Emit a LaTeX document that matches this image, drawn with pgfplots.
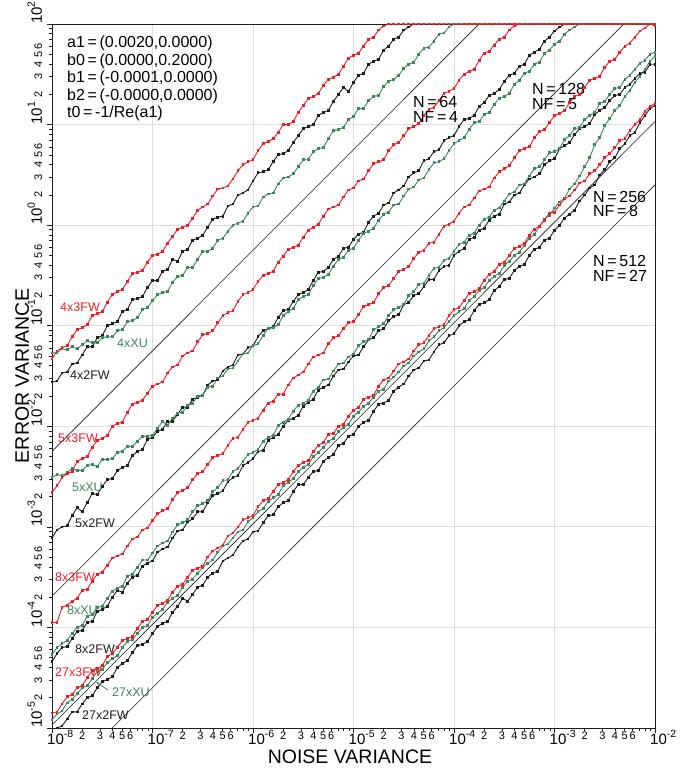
\documentclass[border=0pt]{standalone}
\usepackage{pgfplots}
\pgfplotsset{compat=1.18}
\usepackage{pgfplotstable}
\usetikzlibrary{arrows.meta}
\usepackage{fontspec}
\setmainfont{Liberation Sans}

\definecolor{cRed}{RGB}{236,30,38}
\definecolor{cGreen}{RGB}{62,134,92}
\definecolor{cBlack}{RGB}{30,30,30}
\definecolor{cGrid}{RGB}{222,222,222}

% power-of-ten tick label with a raised exponent
\newcommand{\tp}[1]{10\raisebox{7pt}{\fontsize{10.5}{10.5}\selectfont #1}}
\newcommand{\lbl}{\fontsize{12.5}{13}\selectfont}
\newcommand{\annot}{\fontsize{16}{17}\selectfont}

% columns: log10(noise variance), log10(error variance) for 3FW, XU, 2FW
\pgfplotstableread{
X r g k
-8.00 -1.33 -1.27 -1.56
-7.95 -1.25 -1.27 -1.55
-7.90 -1.22 -1.23 -1.47
-7.85 -1.20 -1.24 -1.46
-7.80 -1.11 -1.21 -1.38
-7.75 -1.04 -1.23 -1.37
-7.70 -1.02 -1.19 -1.29
-7.65 -0.99 -1.15 -1.21
-7.60 -0.90 -1.17 -1.21
-7.55 -0.88 -1.17 -1.12
-7.50 -0.86 -1.12 -1.10
-7.45 -0.77 -1.11 -1.00
-7.40 -0.69 -1.11 -0.98
-7.35 -0.66 -1.05 -0.96
-7.30 -0.64 -1.04 -0.86
-7.25 -0.56 -0.96 -0.84
-7.20 -0.48 -0.95 -0.74
-7.15 -0.47 -0.92 -0.73
-7.10 -0.45 -0.84 -0.71
-7.05 -0.37 -0.82 -0.62
-7.00 -0.30 -0.75 -0.55
-6.95 -0.29 -0.69 -0.55
-6.90 -0.26 -0.67 -0.46
-6.85 -0.18 -0.66 -0.44
-6.80 -0.11 -0.57 -0.34
-6.75 -0.04 -0.51 -0.36
-6.70 -0.02 -0.50 -0.26
-6.65 0.00 -0.42 -0.24
-6.60 0.07 -0.42 -0.15
-6.55 0.15 -0.34 -0.13
-6.50 0.18 -0.26 -0.10
-6.45 0.21 -0.26 -0.02
-6.40 0.29 -0.23 0.06
-6.35 0.36 -0.15 0.08
-6.30 0.37 -0.13 0.09
-6.25 0.39 -0.06 0.19
-6.20 0.46 0.00 0.21
-6.15 0.54 0.02 0.30
-6.10 0.60 0.04 0.32
-6.05 0.63 0.12 0.35
-6.00 0.65 0.18 0.44
-5.95 0.74 0.19 0.52
-5.90 0.81 0.28 0.53
-5.85 0.83 0.31 0.55
-5.80 0.86 0.32 0.63
-5.75 0.92 0.41 0.70
-5.70 1.00 0.47 0.71
-5.65 1.00 0.48 0.74
-5.60 1.03 0.51 0.82
-5.55 1.12 0.58 0.89
-5.50 1.19 0.65 0.96
-5.45 1.26 0.65 0.98
-5.40 1.28 0.73 1.00
-5.35 1.31 0.76 1.09
-5.30 1.39 0.77 1.12
-5.25 1.45 0.86 1.14
-5.20 1.47 0.94 1.23
-5.15 1.50 0.95 1.30
-5.10 1.58 0.97 1.37
-5.05 1.66 1.05 1.33
-5.00 1.69 1.08 1.42
-4.95 1.71 1.16 1.49
-4.90 1.78 1.16 1.51
-4.85 1.85 1.24 1.60
-4.80 1.87 1.28 1.63
-4.75 1.94 1.29 1.65
-4.70 1.98 1.38 1.74
-4.65 2.00 1.43 1.78
-4.60 2.00 1.45 1.85
-4.55 2.00 1.49 1.87
-4.50 2.00 1.56 1.94
-4.45 2.00 1.60 1.97
-4.40 2.00 1.62 2.00
-4.35 2.00 1.70 2.00
-4.30 2.00 1.76 2.00
-4.25 2.00 1.77 2.00
-4.20 2.00 1.83 2.00
-4.15 2.00 1.90 2.00
-4.10 2.00 1.91 2.00
-4.05 2.00 1.97 2.00
-4.00 2.00 2.00 2.00
-3.95 2.00 2.00 2.00
-3.90 2.00 2.00 2.00
-3.85 2.00 2.00 2.00
-3.80 2.00 2.00 2.00
-3.75 2.00 2.00 2.00
-3.70 2.00 2.00 2.00
-3.65 2.00 2.00 2.00
-3.60 2.00 2.00 2.00
-3.55 2.00 2.00 2.00
-3.50 2.00 2.00 2.00
-3.45 2.00 2.00 2.00
-3.40 2.00 2.00 2.00
-3.35 2.00 2.00 2.00
-3.30 2.00 2.00 2.00
-3.25 2.00 2.00 2.00
-3.20 2.00 2.00 2.00
-3.15 2.00 2.00 2.00
-3.10 2.00 2.00 2.00
-3.05 2.00 2.00 2.00
-3.00 2.00 2.00 2.00
-2.95 2.00 2.00 2.00
-2.90 2.00 2.00 2.00
-2.85 2.00 2.00 2.00
-2.80 2.00 2.00 2.00
-2.75 2.00 2.00 2.00
-2.70 2.00 2.00 2.00
-2.65 2.00 2.00 2.00
-2.60 2.00 2.00 2.00
-2.55 2.00 2.00 2.00
-2.50 2.00 2.00 2.00
-2.45 2.00 2.00 2.00
-2.40 2.00 2.00 2.00
-2.35 2.00 2.00 2.00
-2.30 2.00 2.00 2.00
-2.25 2.00 2.00 2.00
-2.20 2.00 2.00 2.00
-2.15 2.00 2.00 2.00
-2.10 2.00 2.00 2.00
-2.05 2.00 2.00 2.00
-2.00 2.00 2.00 2.00
}\groupFour

\pgfplotstableread{
X r g k
-8.00 -2.66 -2.51 -3.11
-7.95 -2.59 -2.48 -3.03
-7.90 -2.51 -2.49 -3.00
-7.85 -2.47 -2.46 -2.99
-7.80 -2.45 -2.42 -2.89
-7.75 -2.35 -2.44 -2.81
-7.70 -2.32 -2.44 -2.85
-7.65 -2.30 -2.39 -2.76
-7.60 -2.21 -2.38 -2.67
-7.55 -2.14 -2.40 -2.68
-7.50 -2.12 -2.33 -2.60
-7.45 -2.09 -2.33 -2.53
-7.40 -2.00 -2.32 -2.52
-7.35 -1.97 -2.26 -2.44
-7.30 -1.96 -2.25 -2.41
-7.25 -1.86 -2.20 -2.39
-7.20 -1.78 -2.20 -2.29
-7.15 -1.76 -2.15 -2.25
-7.10 -1.74 -2.10 -2.23
-7.05 -1.67 -2.10 -2.13
-7.00 -1.60 -2.09 -2.11
-6.95 -1.58 -2.02 -2.05
-6.90 -1.56 -1.95 -2.03
-6.85 -1.47 -1.99 -1.95
-6.80 -1.41 -1.92 -1.95
-6.75 -1.39 -1.87 -1.88
-6.70 -1.30 -1.86 -1.81
-6.65 -1.27 -1.79 -1.81
-6.60 -1.25 -1.77 -1.73
-6.55 -1.16 -1.70 -1.71
-6.50 -1.09 -1.69 -1.69
-6.45 -1.08 -1.61 -1.59
-6.40 -1.05 -1.60 -1.55
-6.35 -0.97 -1.52 -1.54
-6.30 -0.90 -1.50 -1.45
-6.25 -0.87 -1.43 -1.41
-6.20 -0.85 -1.42 -1.39
-6.15 -0.76 -1.35 -1.29
-6.10 -0.69 -1.28 -1.28
-6.05 -0.67 -1.27 -1.22
-6.00 -0.64 -1.20 -1.20
-5.95 -0.56 -1.18 -1.11
-5.90 -0.50 -1.10 -1.05
-5.85 -0.48 -1.03 -1.03
-5.80 -0.46 -1.02 -1.01
-5.75 -0.37 -0.99 -0.92
-5.70 -0.31 -0.90 -0.85
-5.65 -0.24 -0.86 -0.84
-5.60 -0.22 -0.83 -0.76
-5.55 -0.20 -0.74 -0.69
-5.50 -0.12 -0.71 -0.67
-5.45 -0.05 -0.69 -0.64
-5.40 -0.02 -0.60 -0.55
-5.35 0.01 -0.53 -0.47
-5.30 0.09 -0.52 -0.46
-5.25 0.16 -0.49 -0.42
-5.20 0.18 -0.41 -0.34
-5.15 0.20 -0.34 -0.31
-5.10 0.28 -0.32 -0.23
-5.05 0.35 -0.25 -0.22
-5.00 0.37 -0.23 -0.14
-4.95 0.44 -0.15 -0.09
-4.90 0.46 -0.08 -0.07
-4.85 0.54 -0.06 0.03
-4.80 0.61 -0.03 0.09
-4.75 0.63 0.05 0.12
-4.70 0.65 0.11 0.20
-4.65 0.74 0.13 0.22
-4.60 0.80 0.20 0.32
-4.55 0.82 0.21 0.35
-4.50 0.89 0.29 0.39
-4.45 0.96 0.36 0.48
-4.40 0.98 0.38 0.52
-4.35 1.01 0.45 0.54
-4.30 1.09 0.47 0.64
-4.25 1.15 0.55 0.66
-4.20 1.17 0.62 0.73
-4.15 1.24 0.63 0.75
-4.10 1.31 0.66 0.84
-4.05 1.33 0.74 0.87
-4.00 1.36 0.81 0.89
-3.95 1.44 0.84 0.98
-3.90 1.50 0.87 1.05
-3.85 1.53 0.95 1.06
-3.80 1.55 1.02 1.09
-3.75 1.64 1.03 1.18
-3.70 1.71 1.10 1.22
-3.65 1.73 1.12 1.29
-3.60 1.79 1.20 1.31
-3.55 1.85 1.26 1.35
-3.50 1.87 1.28 1.43
-3.45 1.94 1.31 1.49
-3.40 1.98 1.40 1.51
-3.35 2.00 1.44 1.58
-3.30 2.00 1.51 1.60
-3.25 2.00 1.53 1.69
-3.20 2.00 1.60 1.72
-3.15 2.00 1.62 1.75
-3.10 2.00 1.71 1.83
-3.05 2.00 1.74 1.87
-3.00 2.00 1.80 1.93
-2.95 2.00 1.83 1.97
-2.90 2.00 1.90 2.00
-2.85 2.00 1.94 2.00
-2.80 2.00 1.97 2.00
-2.75 2.00 2.00 2.00
-2.70 2.00 2.00 2.00
-2.65 2.00 2.00 2.00
-2.60 2.00 2.00 2.00
-2.55 2.00 2.00 2.00
-2.50 2.00 2.00 2.00
-2.45 2.00 2.00 2.00
-2.40 2.00 2.00 2.00
-2.35 2.00 2.00 2.00
-2.30 2.00 2.00 2.00
-2.25 2.00 2.00 2.00
-2.20 2.00 2.00 2.00
-2.15 2.00 2.00 2.00
-2.10 2.00 2.00 2.00
-2.05 2.00 2.00 2.00
-2.00 2.00 2.00 2.00
}\groupFive

\pgfplotstableread{
X r g k
-8.00 -3.95 -4.27 -4.34
-7.95 -3.95 -4.20 -4.26
-7.90 -3.80 -4.16 -4.20
-7.85 -3.78 -4.13 -4.19
-7.80 -3.74 -4.06 -4.11
-7.75 -3.71 -4.00 -4.04
-7.70 -3.63 -3.98 -4.03
-7.65 -3.62 -3.89 -3.95
-7.60 -3.54 -3.87 -3.94
-7.55 -3.47 -3.80 -3.84
-7.50 -3.45 -3.79 -3.82
-7.45 -3.38 -3.71 -3.79
-7.40 -3.31 -3.64 -3.70
-7.35 -3.29 -3.61 -3.63
-7.30 -3.27 -3.59 -3.65
-7.25 -3.19 -3.49 -3.56
-7.20 -3.12 -3.47 -3.50
-7.15 -3.10 -3.40 -3.48
-7.10 -3.03 -3.33 -3.39
-7.05 -3.01 -3.33 -3.36
-7.00 -2.94 -3.26 -3.34
-6.95 -2.87 -3.19 -3.25
-6.90 -2.84 -3.16 -3.22
-6.85 -2.82 -3.14 -3.20
-6.80 -2.73 -3.05 -3.11
-6.75 -2.66 -2.98 -3.04
-6.70 -2.64 -2.96 -3.03
-6.65 -2.61 -2.93 -2.95
-6.60 -2.53 -2.85 -2.92
-6.55 -2.47 -2.79 -2.85
-6.50 -2.45 -2.77 -2.85
-6.45 -2.38 -2.74 -2.76
-6.40 -2.31 -2.65 -2.69
-6.35 -2.29 -2.61 -2.67
-6.30 -2.27 -2.54 -2.64
-6.25 -2.19 -2.53 -2.55
-6.20 -2.12 -2.45 -2.51
-6.15 -2.11 -2.42 -2.49
-6.10 -2.03 -2.35 -2.39
-6.05 -1.96 -2.28 -2.36
-6.00 -1.94 -2.26 -2.32
-5.95 -1.92 -2.23 -2.25
-5.90 -1.84 -2.15 -2.24
-5.85 -1.77 -2.11 -2.14
-5.80 -1.75 -2.09 -2.11
-5.75 -1.68 -1.99 -2.08
-5.70 -1.68 -1.96 -2.00
-5.65 -1.59 -1.93 -1.94
-5.60 -1.52 -1.85 -1.92
-5.55 -1.49 -1.79 -1.89
-5.50 -1.46 -1.77 -1.80
-5.45 -1.38 -1.74 -1.76
-5.40 -1.31 -1.65 -1.73
-5.35 -1.29 -1.61 -1.64
-5.30 -1.27 -1.54 -1.61
-5.25 -1.18 -1.53 -1.59
-5.20 -1.12 -1.45 -1.50
-5.15 -1.10 -1.38 -1.44
-5.10 -1.03 -1.37 -1.43
-5.05 -0.97 -1.31 -1.36
-5.00 -0.96 -1.28 -1.30
-4.95 -0.89 -1.20 -1.29
-4.90 -0.81 -1.16 -1.21
-4.85 -0.79 -1.14 -1.14
-4.80 -0.77 -1.04 -1.12
-4.75 -0.68 -1.01 -1.05
-4.70 -0.62 -0.98 -1.03
-4.65 -0.60 -0.90 -0.95
-4.60 -0.53 -0.84 -0.91
-4.55 -0.46 -0.82 -0.89
-4.50 -0.44 -0.79 -0.79
-4.45 -0.41 -0.70 -0.77
-4.40 -0.33 -0.66 -0.70
-4.35 -0.27 -0.59 -0.68
-4.30 -0.25 -0.58 -0.61
-4.25 -0.18 -0.50 -0.54
-4.20 -0.17 -0.43 -0.54
-4.15 -0.09 -0.42 -0.45
-4.10 -0.01 -0.35 -0.41
-4.05 0.01 -0.33 -0.40
-4.00 0.04 -0.26 -0.30
-3.95 0.12 -0.19 -0.26
-3.90 0.18 -0.17 -0.23
-3.85 0.20 -0.10 -0.14
-3.80 0.27 -0.08 -0.12
-3.75 0.34 0.00 -0.05
-3.70 0.36 0.06 -0.03
-3.65 0.38 0.08 0.05
-3.60 0.47 0.15 0.09
-3.55 0.53 0.17 0.11
-3.50 0.56 0.24 0.21
-3.45 0.59 0.31 0.23
-3.40 0.67 0.33 0.30
-3.35 0.74 0.40 0.32
-3.30 0.76 0.41 0.40
-3.25 0.78 0.49 0.46
-3.20 0.87 0.56 0.48
-3.15 0.93 0.58 0.51
-3.10 0.95 0.65 0.60
-3.05 1.02 0.72 0.64
-3.00 1.09 0.73 0.66
-2.95 1.11 0.76 0.76
-2.90 1.14 0.85 0.79
-2.85 1.22 0.89 0.82
-2.80 1.28 0.96 0.90
-2.75 1.30 0.97 0.96
-2.70 1.37 1.05 0.98
-2.65 1.44 1.09 1.01
-2.60 1.46 1.12 1.10
-2.55 1.48 1.21 1.14
-2.50 1.57 1.23 1.17
-2.45 1.63 1.30 1.24
-2.40 1.65 1.36 1.29
-2.35 1.72 1.37 1.30
-2.30 1.78 1.45 1.37
-2.25 1.81 1.49 1.40
-2.20 1.87 1.55 1.46
-2.15 1.93 1.61 1.51
-2.10 1.96 1.64 1.52
-2.05 2.00 1.70 1.60
-2.00 1.98 1.72 1.60
}\groupEight

\pgfplotstableread{
X r g k
-8.00 -4.85 -4.92 nan
-7.95 -4.84 -4.86 -5.00
-7.90 -4.76 -4.83 -4.98
-7.85 -4.69 -4.75 -4.91
-7.80 -4.67 -4.72 -4.84
-7.75 -4.60 -4.66 -4.84
-7.70 -4.58 -4.60 -4.76
-7.65 -4.50 -4.58 -4.70
-7.60 -4.43 -4.51 -4.68
-7.55 -4.41 -4.44 -4.60
-7.50 -4.38 -4.42 -4.54
-7.45 -4.29 -4.35 -4.52
-7.40 -4.26 -4.31 -4.49
-7.35 -4.20 -4.28 -4.40
-7.30 -4.13 -4.20 -4.36
-7.25 -4.11 -4.14 -4.33
-7.20 -4.09 -4.12 -4.25
-7.15 -4.01 -4.06 -4.18
-7.10 -3.94 -4.00 -4.17
-7.05 -3.92 -3.98 -4.14
-7.00 -3.85 -3.90 -4.06
-6.95 -3.78 -3.86 -3.99
-6.90 -3.76 -3.82 -3.96
-6.85 -3.73 -3.75 -3.94
-6.80 -3.65 -3.71 -3.85
-6.75 -3.59 -3.68 -3.79
-6.70 -3.57 -3.60 -3.71
-6.65 -3.50 -3.54 -3.74
-6.60 -3.43 -3.52 -3.67
-6.55 -3.41 -3.46 -3.60
-6.50 -3.39 -3.40 -3.58
-6.45 -3.30 -3.36 -3.50
-6.40 -3.24 -3.33 -3.46
-6.35 -3.21 -3.25 -3.44
-6.30 -3.18 -3.19 -3.34
-6.25 -3.09 -3.17 -3.31
-6.20 -3.06 -3.11 -3.28
-6.15 -3.00 -3.05 -3.20
-6.10 -2.93 -3.03 -3.14
-6.05 -2.91 -2.95 -3.12
-6.00 -2.89 -2.91 -3.05
-5.95 -2.80 -2.85 -3.04
-5.90 -2.74 -2.82 -2.96
-5.85 -2.72 -2.75 -2.89
-5.80 -2.65 -2.71 -2.88
-5.75 -2.58 -2.68 -2.80
-5.70 -2.56 -2.59 -2.76
-5.65 -2.53 -2.56 -2.74
-5.60 -2.45 -2.52 -2.65
-5.55 -2.39 -2.45 -2.58
-5.50 -2.36 -2.41 -2.58
-5.45 -2.34 -2.38 -2.51
-5.40 -2.25 -2.30 -2.45
-5.35 -2.19 -2.26 -2.44
-5.30 -2.16 -2.21 -2.35
-5.25 -2.08 -2.15 -2.31
-5.20 -2.07 -2.12 -2.28
-5.15 -2.00 -2.05 -2.19
-5.10 -1.98 -2.01 -2.17
-5.05 -1.90 -1.98 -2.10
-5.00 -1.84 -1.90 -2.08
-4.95 -1.81 -1.86 -2.00
-4.90 -1.73 -1.80 -1.96
-4.85 -1.71 -1.77 -1.94
-4.80 -1.69 -1.71 -1.85
-4.75 -1.60 -1.65 -1.78
-4.70 -1.54 -1.63 -1.77
-4.65 -1.52 -1.55 -1.74
-4.60 -1.45 -1.51 -1.65
-4.55 -1.38 -1.46 -1.61
-4.50 -1.36 -1.40 -1.58
-4.45 -1.33 -1.37 -1.50
-4.40 -1.25 -1.30 -1.44
-4.35 -1.19 -1.26 -1.42
-4.30 -1.17 -1.23 -1.35
-4.25 -1.10 -1.15 -1.34
-4.20 -1.03 -1.11 -1.26
-4.15 -1.01 -1.05 -1.19
-4.10 -0.99 -1.02 -1.17
-4.05 -0.90 -0.96 -1.10
-4.00 -0.84 -0.90 -1.08
-3.95 -0.82 -0.86 -1.00
-3.90 -0.75 -0.83 -0.96
-3.85 -0.68 -0.75 -0.94
-3.80 -0.66 -0.71 -0.85
-3.75 -0.63 -0.65 -0.79
-3.70 -0.55 -0.62 -0.77
-3.65 -0.49 -0.55 -0.74
-3.60 -0.46 -0.51 -0.65
-3.55 -0.39 -0.48 -0.61
-3.50 -0.37 -0.40 -0.54
-3.45 -0.30 -0.36 -0.53
-3.40 -0.23 -0.30 -0.45
-3.35 -0.21 -0.27 -0.41
-3.30 -0.18 -0.20 -0.39
-3.25 -0.10 -0.13 -0.30
-3.20 -0.04 -0.09 -0.24
-3.15 -0.01 -0.01 -0.22
-3.10 0.05 0.06 -0.15
-3.05 0.12 0.10 -0.13
-3.00 0.13 0.17 -0.05
-2.95 0.20 0.23 0.00
-2.90 0.26 0.27 0.07
-2.85 0.29 0.36 0.11
-2.80 0.35 0.41 0.15
-2.75 0.42 0.49 0.24
-2.70 0.44 0.58 0.30
-2.65 0.51 0.67 0.37
-2.60 0.54 0.80 0.40
-2.55 0.60 0.87 0.50
-2.50 0.67 0.99 0.55
-2.45 0.71 1.06 0.63
-2.40 0.77 1.14 0.67
-2.35 0.84 1.19 0.76
-2.30 0.86 1.28 0.81
-2.25 0.94 1.34 0.89
-2.20 1.00 1.42 0.92
-2.15 1.05 1.48 1.02
-2.10 1.13 1.55 1.09
-2.05 1.18 1.63 1.16
-2.00 1.21 1.68 1.19
}\groupTwentySeven

\begin{document}
\begin{tikzpicture}
\useasboundingbox (-52pt,-42pt) rectangle (642pt,728pt);
\begin{axis}[
  at={(0pt,0pt)}, anchor=south west,
  scale only axis, width=603pt, height=704pt,
  xmin=-8, xmax=-2, ymin=-5, ymax=2,
  clip=false,
  unbounded coords=jump,
  axis line style={cBlack, line width=0.8pt},
  tick align=outside, tick pos=left,
  major tick length=5pt, minor tick length=3pt,
  tick style={cBlack, line width=0.6pt},
  xtick={-8,-7,-6,-5,-4,-3,-2},
  ytick={-5,-4,-3,-2,-1,0,1,2},
  xticklabels={\tp{-8},\tp{-7},\tp{-6},\tp{-5},\tp{-4},\tp{-3},\tp{-2}},
  yticklabels={\tp{-5},\tp{-4},\tp{-3},\tp{-2},\tp{-1},\tp{0},\tp{1},\tp{2}},
  minor xtick={-7.69897,-7.52288,-7.39794,-7.30103,-7.22185,-7.15490,-7.09691,-7.04576,
    -6.69897,-6.52288,-6.39794,-6.30103,-6.22185,-6.15490,-6.09691,-6.04576,
    -5.69897,-5.52288,-5.39794,-5.30103,-5.22185,-5.15490,-5.09691,-5.04576,
    -4.69897,-4.52288,-4.39794,-4.30103,-4.22185,-4.15490,-4.09691,-4.04576,
    -3.69897,-3.52288,-3.39794,-3.30103,-3.22185,-3.15490,-3.09691,-3.04576,
    -2.69897,-2.52288,-2.39794,-2.30103,-2.22185,-2.15490,-2.09691,-2.04576},
  minor ytick={-4.69897,-4.52288,-4.39794,-4.30103,-4.22185,-4.15490,-4.09691,-4.04576,
    -3.69897,-3.52288,-3.39794,-3.30103,-3.22185,-3.15490,-3.09691,-3.04576,
    -2.69897,-2.52288,-2.39794,-2.30103,-2.22185,-2.15490,-2.09691,-2.04576,
    -1.69897,-1.52288,-1.39794,-1.30103,-1.22185,-1.15490,-1.09691,-1.04576,
    -0.69897,-0.52288,-0.39794,-0.30103,-0.22185,-0.15490,-0.09691,-0.04576,
    0.30103,0.47712,0.60206,0.69897,0.77815,0.84510,0.90309,0.95424,
    1.30103,1.47712,1.60206,1.69897,1.77815,1.84510,1.90309,1.95424},
  grid=major, major grid style={cGrid, line width=0.8pt},
  xticklabel style={font=\fontsize{15}{15}\selectfont, inner sep=0pt, anchor=north west, xshift=-5pt, yshift=3pt},
  yticklabel style={font=\fontsize{15}{15}\selectfont, inner sep=0pt, xshift=-5pt, rotate=90, anchor=base west},
  every axis plot/.append style={line width=0.9pt, mark=square*, mark size=0.9pt},
]
% slope-one reference lines
\addplot[cBlack, line width=0.6pt, no marks] coordinates {(-8,-2.25) (-3.75,2)};
\addplot[cBlack, line width=0.6pt, no marks] coordinates {(-8,-3.69) (-2.31,2)};
\addplot[cBlack, line width=0.6pt, no marks] coordinates {(-8,-4.97) (-2,1.03)};
\addplot[cBlack, line width=0.6pt, no marks] coordinates {(-7.40,-5) (-2,0.40)};

\addplot[cBlack] table[x=X,y=k]{\groupTwentySeven};
\addplot[cGreen] table[x=X,y=g]{\groupTwentySeven};
\addplot[cRed] table[x=X,y=r]{\groupTwentySeven};
\addplot[cBlack] table[x=X,y=k]{\groupEight};
\addplot[cGreen] table[x=X,y=g]{\groupEight};
\addplot[cRed] table[x=X,y=r]{\groupEight};
\addplot[cBlack] table[x=X,y=k]{\groupFive};
\addplot[cGreen] table[x=X,y=g]{\groupFive};
\addplot[cRed] table[x=X,y=r]{\groupFive};
\addplot[cBlack] table[x=X,y=k]{\groupFour};
\addplot[cGreen] table[x=X,y=g]{\groupFour};
\addplot[cRed] table[x=X,y=r]{\groupFour};

% parameter block
\node[anchor=base west, inner sep=0pt, font=\annot] at (axis cs:-7.851,1.764) {a1\,=\,(0.0020,0.0000)};
\node[anchor=base west, inner sep=0pt, font=\annot] at (axis cs:-7.851,1.592) {b0\,=\,(0.0000,0.2000)};
\node[anchor=base west, inner sep=0pt, font=\annot] at (axis cs:-7.851,1.419) {b1\,=\,(-0.0001,0.0000)};
\node[anchor=base west, inner sep=0pt, font=\annot] at (axis cs:-7.851,1.244) {b2\,=\,(-0.0000,0.0000)};
\node[anchor=base west, inner sep=0pt, font=\annot] at (axis cs:-7.851,1.071) {t0\,=\,-1/Re(a1)};

% block sizes
\node[anchor=base west, inner sep=0pt, font=\annot] at (axis cs:-4.408,1.165) {N\,=\,64};
\node[anchor=base west, inner sep=0pt, font=\annot] at (axis cs:-4.408,1.016) {NF\,=\,4};
\node[anchor=base west, inner sep=0pt, font=\annot] at (axis cs:-3.224,1.294) {N\,=\,128};
\node[anchor=base west, inner sep=0pt, font=\annot] at (axis cs:-3.224,1.150) {NF\,=\,5};
\node[anchor=base west, inner sep=0pt, font=\annot] at (axis cs:-2.617,0.230) {N\,=\,256};
\node[anchor=base west, inner sep=0pt, font=\annot] at (axis cs:-2.617,0.081) {NF\,=\,8};
\node[anchor=base west, inner sep=0pt, font=\annot] at (axis cs:-2.617,-0.416) {N\,=\,512};
\node[anchor=base west, inner sep=0pt, font=\annot] at (axis cs:-2.617,-0.565) {NF\,=\,27};

% curve names
\node[anchor=west, inner sep=0pt, font=\lbl, text=cRed] at (axis cs:-7.920,-0.814) {4x3FW};
\node[anchor=west, inner sep=0pt, font=\lbl, text=cGreen] at (axis cs:-7.353,-1.172) {4xXU};
\node[anchor=west, inner sep=0pt, font=\lbl, text=cBlack] at (axis cs:-7.821,-1.490) {4x2FW};
\node[anchor=west, inner sep=0pt, font=\lbl, text=cRed] at (axis cs:-7.940,-2.117) {5x3FW};
\node[anchor=west, inner sep=0pt, font=\lbl, text=cGreen] at (axis cs:-7.801,-2.604) {5xXU};
\node[anchor=west, inner sep=0pt, font=\lbl, text=cBlack] at (axis cs:-7.771,-2.962) {5x2FW};
\node[anchor=west, inner sep=0pt, font=\lbl, text=cRed] at (axis cs:-7.970,-3.499) {8x3FW};
\node[anchor=west, inner sep=0pt, font=\lbl, text=cGreen] at (axis cs:-7.851,-3.827) {8xXU};
\node[anchor=west, inner sep=0pt, font=\lbl, text=cBlack] at (axis cs:-7.771,-4.215) {8x2FW};
\node[anchor=west, inner sep=0pt, font=\lbl, text=cRed] at (axis cs:-7.970,-4.443) {27x3FW};
\node[anchor=west, inner sep=0pt, font=\lbl, text=cGreen] at (axis cs:-7.403,-4.642) {27xXU};
\node[anchor=west, inner sep=0pt, font=\lbl, text=cBlack] at (axis cs:-7.701,-4.871) {27x2FW};
\draw[cGreen, line width=0.7pt, -{Stealth[length=4pt,width=3pt]}] (axis cs:-7.443,-4.622) -- (axis cs:-7.562,-4.543);

% axis titles
\node[anchor=base, inner sep=0pt, font=\fontsize{19.5}{20}\selectfont] at (axis cs:-5.035,-5.355) {NOISE VARIANCE};
\node[anchor=base, inner sep=0pt, rotate=90, font=\fontsize{19.5}{20}\selectfont] at (axis cs:-8.229,-1.50) {ERROR VARIANCE};
\end{axis}

% labelled minor ticks 2..6 in every decade
\foreach \d in {0,...,5}{
  \foreach \m/\l in {30.25/2,47.95/3,60.51/4,70.25/5,78.20/6}{
    \node[anchor=north, inner sep=0pt, font=\fontsize{11}{11}\selectfont] at ({(\d*100.5+\m)*1pt},-4pt) {\l};
  }
}
\foreach \d in {0,...,6}{
  \foreach \m/\l in {30.27/2,47.98/3,60.55/4,70.30/5,78.26/6}{
    \node[anchor=base, inner sep=0pt, rotate=90, font=\fontsize{11}{11}\selectfont] at (-10pt,{(\d*100.571+\m)*1pt}) {\l};
  }
}
\end{tikzpicture}
\end{document}
